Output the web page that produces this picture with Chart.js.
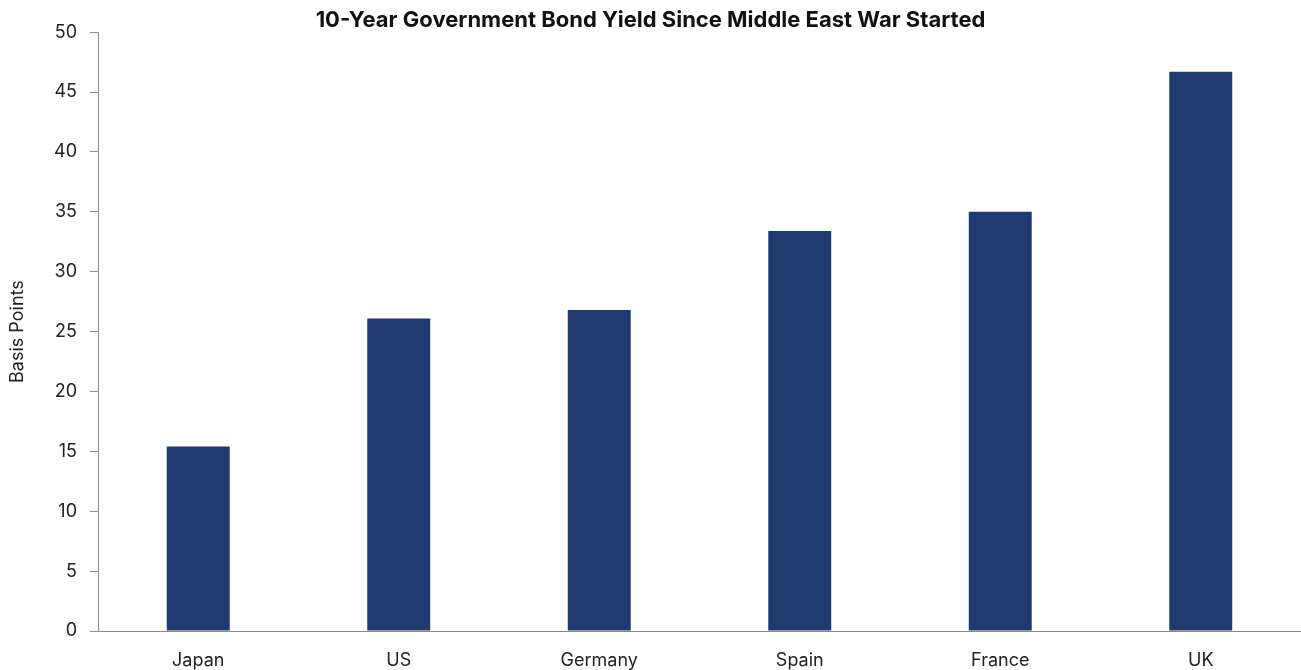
<!DOCTYPE html>
<html>
<head>
<meta charset="utf-8">
<script src="https://cdn.jsdelivr.net/npm/chart.js@4/dist/chart.umd.min.js"></script>
<style>
  html, body { margin: 0; padding: 0; background: #fff; overflow: hidden; }
  #wrap { width: 1301px; height: 670px; }
</style>
</head>
<body>
<div id="wrap"><canvas id="c" width="1301" height="670"></canvas></div>
<script>
const categories = ["Japan", "US", "Germany", "Spain", "France", "UK"];
const yieldChange = [15.4, 26.1, 26.8, 33.4, 35.0, 46.7];
const chartTitle = "10-Year Government Bond Yield Since Middle East War Started";
const yAxisTitle = "Basis Points";

const fontFamily = "Inter, 'Noto Sans', sans-serif";

new Chart(document.getElementById("c"), {
  type: "bar",
  data: {
    labels: categories,
    datasets: [{
      data: yieldChange,
      backgroundColor: "#1e3a6e",
      borderWidth: 0,
      categoryPercentage: 1.0,
      barPercentage: 0.314
    }]
  },
  options: {
    responsive: false,
    animation: false,
    layout: { padding: { left: 0, right: 0, top: 0, bottom: 0 } },
    plugins: {
      legend: { display: false },
      tooltip: { enabled: false },
      title: {
        display: true,
        text: chartTitle,
        color: "#111",
        font: { family: fontFamily, size: 22, weight: "bold", lineHeight: 1.1 },
        padding: { top: 8, bottom: 0 }
      }
    },
    scales: {
      x: {
        grid: { display: false, drawTicks: false },
        border: { display: true, color: "#8a8a8a", width: 1 },
        ticks: {
          color: "#222",
          font: { family: fontFamily, size: 18 },
          padding: 19,
          maxRotation: 0
        },
        afterFit: (s) => { s.height = 39; }
      },
      y: {
        min: 0,
        max: 50,
        ticks: {
          stepSize: 5,
          color: "#222",
          font: { family: fontFamily, size: 18 },
          padding: 13
        },
        grid: {
          drawOnChartArea: false,
          drawTicks: true,
          tickLength: 8,
          color: "#8a8a8a"
        },
        border: { display: true, color: "#8a8a8a", width: 1 },
        title: {
          display: true,
          text: yAxisTitle,
          color: "#222",
          font: { family: fontFamily, size: 18 },
          padding: { top: 7, bottom: 0 }
        },
        afterFit: (s) => { s.width = 98; }
      }
    }
  }
});
</script>
</body>
</html>
